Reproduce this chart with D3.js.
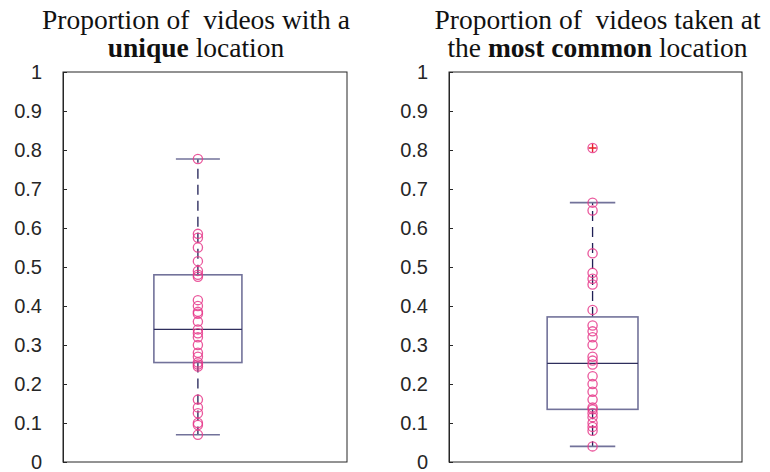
<!DOCTYPE html>
<html>
<head>
<meta charset="utf-8">
<script src="https://cdn.jsdelivr.net/npm/d3@7"></script>
<style>
  body { margin: 0; background: #fff; }
  svg { display: block; }
</style>
</head>
<body>
<svg id="chart" width="770" height="472"></svg>
<script>
// Per-video proportions for each panel
const uniqueValues = [0.777, 0.585, 0.575, 0.55, 0.515, 0.49, 0.48, 0.475, 0.415, 0.40, 0.385,
  0.38, 0.36, 0.34, 0.33, 0.32, 0.30, 0.28, 0.27, 0.255, 0.25, 0.245, 0.16, 0.14, 0.125, 0.10, 0.095, 0.07];
const commonValues = [0.805, 0.665, 0.645, 0.535, 0.485, 0.47, 0.455, 0.39, 0.35, 0.335, 0.32, 0.30,
  0.27, 0.26, 0.25, 0.22, 0.20, 0.18, 0.16, 0.14, 0.135, 0.125, 0.115, 0.10, 0.09, 0.08, 0.04];

// Box statistics: [lower whisker, q1, median, q3, upper whisker]
const uniqueStats = [0.07, 0.255, 0.34, 0.48, 0.777];
const commonStats = [0.04, 0.135, 0.253, 0.372, 0.665];
const commonOutliers = [0.805];

const yTicks = [0, 0.1, 0.2, 0.3, 0.4, 0.5, 0.6, 0.7, 0.8, 0.9, 1];
const boxCenters = [0.975, 0.99];

const panels = [
  { left: 63, right: 347, title: [["Proportion of  videos with a", false]], title2: [["unique", true], [" location", false]],
    values: uniqueValues, stats: uniqueStats, outliers: [], center: boxCenters[0] },
  { left: 449, right: 742, title: [["Proportion of  videos taken at", false]], title2: [["the ", false], ["most common", true], [" location", false]],
    values: commonValues, stats: commonStats, outliers: commonOutliers, center: boxCenters[1] }
];

const svg = d3.select("#chart");
const plotTop = 72, plotBottom = 462;
const y = d3.scaleLinear().domain([0, 1]).range([plotBottom, plotTop]);

const axisColor = "#262626";
const boxColor = "#72729a";
const medianColor = "#2e2e5c";
const whiskerColor = "#1f1f55";
const pointColor = "#e6398b";

panels.forEach(p => {
  const x = d3.scaleLinear().domain([0.5, 1.5]).range([p.left, p.right]);
  const g = svg.append("g");

  // Titles
  const cx = (p.left + p.right) / 2 + (p.left > 300 ? 2 : -9);
  [[p.title, 29], [p.title2, 57]].forEach(([parts, yy]) => {
    const t = g.append("text").attr("x", cx).attr("y", yy)
      .attr("text-anchor", "middle")
      .attr("font-family", "Liberation Serif, serif")
      .attr("font-size", 27.5).attr("fill", "#111")
      .style("white-space", "pre");
    parts.forEach(([s, bold]) => {
      t.append("tspan").text(s).attr("font-weight", bold ? "bold" : "normal");
    });
  });

  // Frame
  g.append("rect").attr("x", p.left).attr("y", plotTop)
    .attr("width", p.right - p.left).attr("height", plotBottom - plotTop)
    .attr("fill", "none").attr("stroke", axisColor).attr("stroke-width", 1);

  // Left axis with inward ticks
  const axis = d3.axisLeft(y).tickValues(yTicks).tickSizeInner(-4).tickSizeOuter(0)
    .tickPadding(21).tickFormat(d => String(+d.toFixed(1)));
  const ag = g.append("g").attr("transform", `translate(${p.left},0)`).call(axis);
  ag.select(".domain").attr("stroke", axisColor);
  ag.selectAll(".tick line").attr("stroke", axisColor);
  ag.selectAll(".tick text").attr("fill", axisColor)
    .attr("font-family", "Liberation Sans, Arial, sans-serif").attr("font-size", 20);

  const [lo, q1, med, q3, hi] = p.stats;
  const c = x(p.center);
  const bw = (x(0.5 + 0.31) - x(0.5));
  const cw = bw / 2;

  // Whiskers (dashed)
  g.append("line").attr("x1", c).attr("x2", c).attr("y1", y(q3)).attr("y2", y(hi))
    .attr("stroke", whiskerColor).attr("stroke-width", 1.3).attr("stroke-dasharray", "10,6");
  g.append("line").attr("x1", c).attr("x2", c).attr("y1", y(q1)).attr("y2", y(lo))
    .attr("stroke", whiskerColor).attr("stroke-width", 1.3).attr("stroke-dasharray", "10,6");
  // Caps
  [lo, hi].forEach(v => {
    g.append("line").attr("x1", c - cw / 2).attr("x2", c + cw / 2).attr("y1", y(v)).attr("y2", y(v))
      .attr("stroke", boxColor).attr("stroke-width", 1.6);
  });
  // Box
  g.append("rect").attr("x", c - bw / 2).attr("y", y(q3)).attr("width", bw).attr("height", y(q1) - y(q3))
    .attr("fill", "none").attr("stroke", boxColor).attr("stroke-width", 1.6);
  g.append("line").attr("x1", c - bw / 2).attr("x2", c + bw / 2).attr("y1", y(med)).attr("y2", y(med))
    .attr("stroke", medianColor).attr("stroke-width", 1.2);

  // Outliers: red plus
  p.outliers.forEach(v => {
    g.append("path").attr("d", `M${c - 4},${y(v)}H${c + 4}M${c},${y(v) - 4}V${y(v) + 4}`)
      .attr("stroke", "#e8202a").attr("stroke-width", 1.4);
  });

  // Individual points
  g.selectAll("circle.pt").data(p.values).enter().append("circle").attr("class", "pt")
    .attr("cx", c).attr("cy", d => y(d)).attr("r", 4.6)
    .attr("fill", "none").attr("stroke", pointColor).attr("stroke-width", 1.3).attr("stroke-opacity", 0.85);
});
</script>
</body>
</html>
